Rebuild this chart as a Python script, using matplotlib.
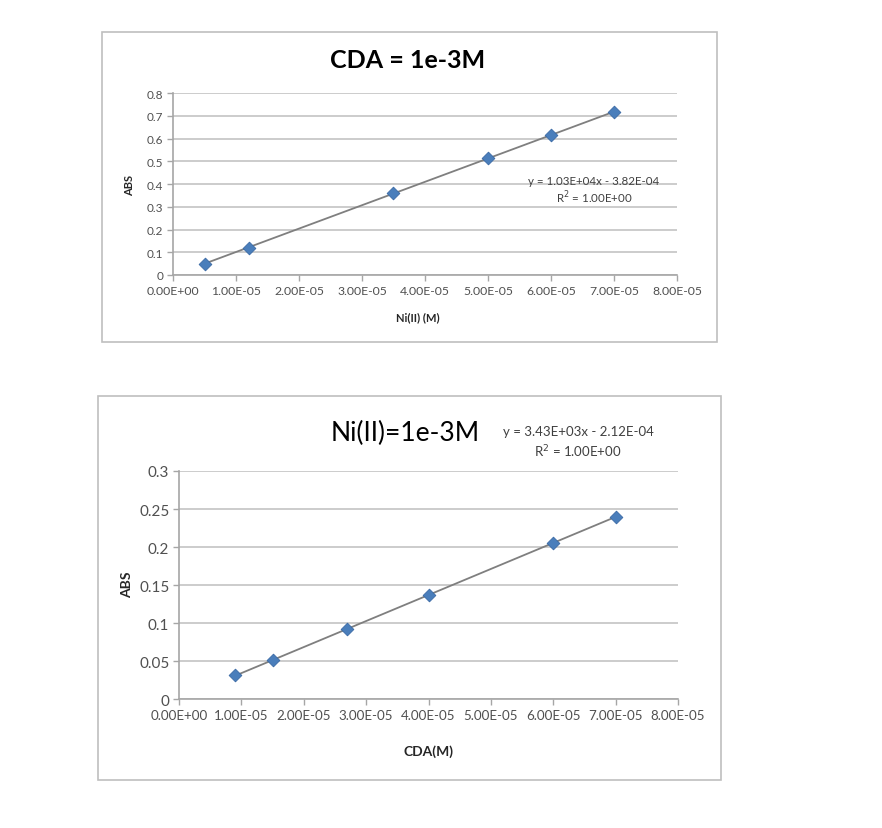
import numpy as np
import matplotlib
matplotlib.use("Agg")
import matplotlib.pyplot as plt
from matplotlib.patches import Rectangle

plt.rcParams['font.family'] = ['Lato', 'DejaVu Sans']

# top chart: CDA fixed, Ni(II) varied
ni_conc = [0.5e-5, 1.2e-5, 3.5e-5, 5.0e-5, 6.0e-5, 7.0e-5]
ni_abs = [0.050, 0.120, 0.360, 0.513, 0.615, 0.717]

# bottom chart: Ni(II) fixed, CDA varied
cda_conc = [0.9e-5, 1.5e-5, 2.7e-5, 4.0e-5, 6.0e-5, 7.0e-5]
cda_abs = [0.031, 0.051, 0.092, 0.137, 0.205, 0.240]

x_ticks = [0, 1e-5, 2e-5, 3e-5, 4e-5, 5e-5, 6e-5, 7e-5, 8e-5]
x_labels = ['0.00E+00', '1.00E-05', '2.00E-05', '3.00E-05', '4.00E-05',
            '5.00E-05', '6.00E-05', '7.00E-05', '8.00E-05']
top_yticks = [0, 0.1, 0.2, 0.3, 0.4, 0.5, 0.6, 0.7, 0.8]
top_ylabels = ['0', '0.1', '0.2', '0.3', '0.4', '0.5', '0.6', '0.7', '0.8']
bot_yticks = [0, 0.05, 0.1, 0.15, 0.2, 0.25, 0.3]
bot_ylabels = ['0', '0.05', '0.1', '0.15', '0.2', '0.25', '0.3']

W, H = 882, 829
fig = plt.figure(figsize=(W / 100, H / 100), dpi=100)


def px_axes(x0, y0, x1, y1):
    # pixel box (top-left origin) -> figure axes
    return fig.add_axes([x0 / W, 1 - y1 / H, (x1 - x0) / W, (y1 - y0) / H])


def frame(x0, y0, x1, y1):
    fig.patches.append(Rectangle((x0 / W, 1 - y1 / H), (x1 - x0) / W, (y1 - y0) / H,
                                 transform=fig.transFigure, fill=False,
                                 edgecolor='#bfbfbf', linewidth=1.2))


def style(ax, yticks, ylabels, ymax, xfs, yfs):
    ax.set_xlim(0, 8e-5)
    ax.set_ylim(0, ymax)
    ax.set_xticks(x_ticks)
    ax.set_xticklabels(x_labels, fontsize=xfs, color='#505050')
    ax.set_yticks(yticks)
    ax.set_yticklabels(ylabels, fontsize=yfs, color='#505050')
    ax.grid(axis='y', color='#c8c8c8', linewidth=1.3)
    ax.set_axisbelow(True)
    for s in ['top', 'right']:
        ax.spines[s].set_visible(False)
    for s in ['left', 'bottom']:
        ax.spines[s].set_color('#a6a6a6')
        ax.spines[s].set_linewidth(1.2)
    ax.tick_params(length=4, color='#a6a6a6', width=1.0, pad=3)


def plot_series(ax, x, y):
    k, b = np.polyfit(x, y, 1)
    xs = np.array([min(x), max(x)])
    ax.plot(xs, k * xs + b, color='#7f7f7f', linewidth=1.3, zorder=2)
    ax.scatter(x, y, marker='D', s=42, color='#4a7ebb', edgecolor='#3a6aa5',
               linewidth=0.6, zorder=3)


# ---- top chart ----
frame(102, 33, 717, 343)
ax1 = px_axes(173, 94, 677, 276)
plot_series(ax1, ni_conc, ni_abs)
style(ax1, top_yticks, top_ylabels, 0.8, 8.8, 8.5)
fig.text(408 / W, 1 - 60 / H, 'CDA = 1e-3M', ha='center', va='center',
         fontsize=18, fontweight='bold', color='#000000')
fig.text(130 / W, 1 - 185 / H, 'ABS', rotation=90, ha='center', va='center',
         fontsize=8, fontweight='bold', color='#262626')
fig.text(418 / W, 1 - 318 / H, 'Ni(II) (M)', ha='center', va='center',
         fontsize=8, fontweight='bold', color='#262626')
fig.text(594 / W, 1 - 182 / H, 'y = 1.03E+04x - 3.82E-04', ha='center', va='center',
         fontsize=8.3, color='#404040')
fig.text(594 / W, 1 - 198 / H, 'R$^2$ = 1.00E+00', ha='center', va='center',
         fontsize=8.3, color='#404040')

# ---- bottom chart ----
frame(98, 397, 721, 781)
ax2 = px_axes(179, 472, 678, 700)
plot_series(ax2, cda_conc, cda_abs)
style(ax2, bot_yticks, bot_ylabels, 0.3, 9.6, 11)
fig.text(405 / W, 1 - 433 / H, 'Ni(II)=1e-3M', ha='center', va='center',
         fontsize=19, color='#000000')
fig.text(127 / W, 1 - 585 / H, 'ABS', rotation=90, ha='center', va='center',
         fontsize=10, fontweight='bold', color='#262626')
fig.text(428 / W, 1 - 752 / H, 'CDA(M)', ha='center', va='center',
         fontsize=10, fontweight='bold', color='#262626')
fig.text(578 / W, 1 - 432 / H, 'y = 3.43E+03x - 2.12E-04', ha='center', va='center',
         fontsize=9.5, color='#404040')
fig.text(578 / W, 1 - 452 / H, 'R$^2$ = 1.00E+00', ha='center', va='center',
         fontsize=9.5, color='#404040')

fig.savefig('out.png', dpi=100, facecolor='white')
